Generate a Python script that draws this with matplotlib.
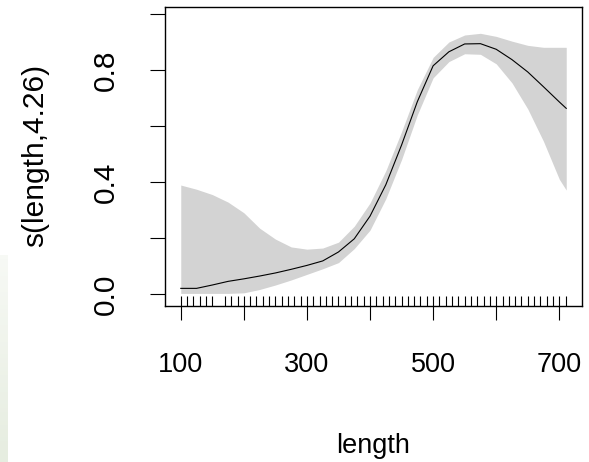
import numpy as np
import matplotlib
matplotlib.use("Agg")
import matplotlib.pyplot as plt

plt.rcParams["font.family"] = ["Liberation Sans", "DejaVu Sans"]

# smooth term s(length) and its confidence band
length = [100, 125, 150, 175, 200, 225, 250, 275, 300, 325, 350, 375, 400,
          425, 450, 475, 500, 525, 550, 575, 600, 625, 650, 675, 700, 711]
fit = [0.020, 0.020, 0.032, 0.045, 0.054, 0.064, 0.075, 0.088, 0.102, 0.118,
       0.150, 0.197, 0.278, 0.390, 0.532, 0.687, 0.815, 0.865, 0.893, 0.894,
       0.874, 0.837, 0.793, 0.740, 0.686, 0.663]
upper = [0.389, 0.374, 0.355, 0.328, 0.290, 0.235, 0.196, 0.168, 0.160, 0.164,
         0.185, 0.242, 0.325, 0.440, 0.580, 0.730, 0.845, 0.900, 0.925, 0.931,
         0.920, 0.903, 0.888, 0.881, 0.881, 0.881]
lower = [0.002, 0.002, 0.002, 0.002, 0.004, 0.016, 0.032, 0.050, 0.070, 0.090,
         0.112, 0.162, 0.228, 0.340, 0.480, 0.640, 0.772, 0.830, 0.858, 0.856,
         0.822, 0.754, 0.661, 0.545, 0.410, 0.371]

# observed lengths for the rug
rug_x = [v for v in range(100, 711, 10) if v != 160]

xticks = [100, 200, 300, 400, 500, 600, 700]
xlabels = ["100", "", "300", "", "500", "", "700"]
yticks = [0.0, 0.2, 0.4, 0.6, 0.8, 1.0]
ylabels = ["0.0", "", "0.4", "", "0.8", ""]

W, H = 589, 462
fig = plt.figure(figsize=(W / 100, H / 100), dpi=100)
ax = fig.add_axes([165 / W, 1 - 306 / H, (582 - 165) / W, (306 - 7) / H])

ax.fill_between(length, lower, upper, color="#d3d3d3", linewidth=0)
ax.plot(length, fit, color="black", linewidth=0.8)
for v in rug_x:
    ax.plot([v, v], [0, 0.035], transform=ax.get_xaxis_transform(),
            color="black", linewidth=0.8, solid_capstyle="butt")

ax.set_xlim(75, 736)
ax.set_ylim(-0.043, 1.025)
ax.set_xticks(xticks)
ax.set_xticklabels(xlabels)
ax.set_yticks(yticks)
ax.set_yticklabels(ylabels, rotation=90, va="center")
ax.tick_params(axis="x", length=10, width=0.8, pad=23, labelsize=19.5)
ax.tick_params(axis="y", length=10.8, width=0.8, pad=22, labelsize=21.5)
for s in ax.spines.values():
    s.set_linewidth(1.0)

fig.text(35 / W, 1 - 155 / H, "s(length,4.26)", rotation=90, ha="center",
         va="center", fontsize=21.5)
fig.text(373.5 / W, 1 - 453 / H, "length", ha="center", va="baseline",
         fontsize=19.5)

# faint strip on the left edge of the screenshot
strip = fig.add_axes([0, 0, 8 / W, (H - 255) / H])
strip.imshow(np.linspace(0, 1, 50).reshape(-1, 1), cmap=matplotlib.colors.LinearSegmentedColormap.from_list("s", ["#f7f9f5", "#e6ede0"]),
             aspect="auto", extent=[0, 1, 0, 1])
strip.axis("off")

fig.savefig("out.png", dpi=100)
